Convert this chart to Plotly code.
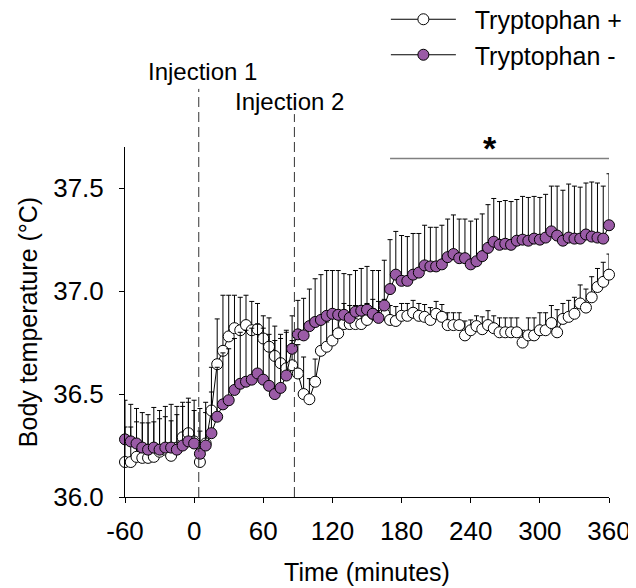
import plotly.graph_objects as go

times = [-60, -55, -50, -45, -40, -35, -30, -25, -20, -15, -10, -5,
         0, 5, 10, 15, 20, 25, 30, 35, 40, 45, 50, 55,
         60, 65, 70, 75, 80, 85, 90, 95, 100, 105, 110, 115,
         120, 125, 130, 135, 140, 145, 150, 155, 160, 165, 170, 175,
         180, 185, 190, 195, 200, 205, 210, 215, 220, 225, 230, 235,
         240, 245, 250, 255, 260, 265, 270, 275, 280, 285, 290, 295,
         300, 305, 310, 315, 320, 325, 330, 335, 340, 345, 350, 355,
         360]

trp_plus = [36.17, 36.17, 36.195, 36.19, 36.19, 36.195, 36.22, 36.23, 36.20, 36.24, 36.29, 36.31,
            36.27, 36.17, 36.26, 36.42, 36.645, 36.71, 36.78, 36.82, 36.81, 36.835, 36.81, 36.815,
            36.77, 36.73, 36.685, 36.65, 36.625, 36.64, 36.60, 36.50, 36.475, 36.56, 36.71, 36.73,
            36.76, 36.795, 36.84, 36.84, 36.84, 36.84, 36.86, 36.89, 36.88, 36.89, 36.86, 36.855,
            36.88, 36.88, 36.895, 36.88, 36.875, 36.86, 36.89, 36.875, 36.835, 36.835, 36.835, 36.785,
            36.81, 36.83, 36.815, 36.835, 36.82, 36.80, 36.80, 36.80, 36.80, 36.75, 36.785, 36.785,
            36.81, 36.81, 36.845, 36.80, 36.865, 36.875, 36.89, 36.94, 36.92, 36.97, 37.02, 37.045,
            37.08]

sem_plus = [0.17, 0.17, 0.17, 0.17, 0.17, 0.17, 0.16, 0.16, 0.17, 0.16, 0.15, 0.15,
            0.15, 0.15, 0.15, 0.21, 0.22, 0.27, 0.20, 0.16, 0.16, 0.145, 0.14, 0.125,
            0.11, 0.14, 0.145, 0.14, 0.175, 0.12, 0.14, 0.18, 0.10, 0.11, 0.13, 0.12,
            0.11, 0.10, 0.10, 0.09, 0.09, 0.09, 0.08, 0.07, 0.07, 0.07, 0.07, 0.07,
            0.06, 0.06, 0.06, 0.06, 0.06, 0.06, 0.06, 0.06, 0.06, 0.06, 0.06, 0.07,
            0.05, 0.05, 0.06, 0.07, 0.06, 0.07, 0.07, 0.07, 0.07, 0.06, 0.085, 0.085,
            0.085, 0.085, 0.085, 0.11, 0.075, 0.08, 0.08, 0.09, 0.09, 0.10, 0.09, 0.095,
            0.10]

trp_minus = [36.28, 36.27, 36.26, 36.24, 36.23, 36.24, 36.23, 36.24, 36.24, 36.23, 36.25, 36.27,
             36.26, 36.21, 36.25, 36.31, 36.39, 36.45, 36.47, 36.52, 36.55, 36.56, 36.57, 36.60,
             36.57, 36.54, 36.50, 36.53, 36.59, 36.72, 36.79, 36.785, 36.83, 36.85, 36.86, 36.88,
             36.89, 36.885, 36.885, 36.87, 36.90, 36.905, 36.91, 36.89, 36.87, 36.93, 37.01, 37.08,
             37.05, 37.05, 37.08, 37.09, 37.125, 37.12, 37.12, 37.13, 37.165, 37.18, 37.16, 37.16,
             37.13, 37.145, 37.17, 37.21, 37.24, 37.225, 37.23, 37.225, 37.245, 37.25, 37.245, 37.255,
             37.25, 37.26, 37.29, 37.27, 37.245, 37.26, 37.255, 37.255, 37.275, 37.265, 37.26, 37.255,
             37.32]

sem_minus = [0.19, 0.18, 0.17, 0.17, 0.17, 0.195, 0.19, 0.20, 0.21, 0.21, 0.21, 0.21,
             0.21, 0.22, 0.21, 0.20, 0.24, 0.25, 0.25, 0.25, 0.25, 0.25, 0.25, 0.24,
             0.25, 0.25, 0.26, 0.24, 0.22, 0.16, 0.165, 0.18, 0.18, 0.21, 0.22, 0.22,
             0.21, 0.215, 0.20, 0.21, 0.20, 0.205, 0.21, 0.21, 0.23, 0.22, 0.24, 0.21,
             0.22, 0.215, 0.20, 0.19, 0.195, 0.19, 0.19, 0.19, 0.185, 0.19, 0.19, 0.19,
             0.21, 0.205, 0.205, 0.21, 0.21, 0.21, 0.21, 0.21, 0.20, 0.21, 0.21, 0.205,
             0.205, 0.21, 0.22, 0.24, 0.245, 0.26, 0.255, 0.25, 0.25, 0.265, 0.265, 0.255,
             0.25]

x_ticks = [-60, 0, 60, 120, 180, 240, 300, 360]
x_tick_labels = ["-60", "0", "60", "120", "180", "240", "300", "360"]
y_ticks = [36.0, 36.5, 37.0, 37.5]
y_tick_labels = ["36.0", "36.5", "37.0", "37.5"]
injection_times = [4, 87]
injection_labels = ["Injection 1", "Injection 2"]
sig_range = [170, 360]
sig_y = 37.644

FONT = "Liberation Sans, Arial, sans-serif"
PURPLE = "#9A5BA6"

fig = go.Figure()

fig.add_trace(go.Scatter(
    x=times, y=trp_plus, mode="lines+markers", name="&nbsp;&nbsp;Tryptophan +",
    line=dict(color="black", width=1),
    marker=dict(size=11, color="white", line=dict(color="black", width=1)),
    error_y=dict(type="data", symmetric=False, array=sem_plus,
                 arrayminus=[0] * len(sem_plus), color="black", thickness=1, width=2.5),
    cliponaxis=False,
))
fig.add_trace(go.Scatter(
    x=times, y=trp_minus, mode="lines+markers", name="&nbsp;&nbsp;Tryptophan -",
    line=dict(color="black", width=1),
    marker=dict(size=11, color=PURPLE, line=dict(color="black", width=1)),
    error_y=dict(type="data", symmetric=False, array=sem_minus,
                 arrayminus=[0] * len(sem_minus), color="black", thickness=1, width=2.5),
    cliponaxis=False,
))

# injection dashed lines
tops = [1.166, 1.094]
for t, top in zip(injection_times, tops):
    fig.add_shape(type="line", xref="x", yref="paper", x0=t, x1=t, y0=0, y1=top,
                  line=dict(color="#333333", width=1, dash="10px,5px"))

fig.add_annotation(x=7, y=1.216, xref="x", yref="paper", text=injection_labels[0],
                   showarrow=False, font=dict(size=24, color="black", family=FONT),
                   xanchor="center", yanchor="middle")
fig.add_annotation(x=83, y=1.131, xref="x", yref="paper", text=injection_labels[1],
                   showarrow=False, font=dict(size=24, color="black", family=FONT),
                   xanchor="center", yanchor="middle")

# significance line and star
fig.add_shape(type="line", xref="x", yref="y", x0=sig_range[0], x1=sig_range[1],
              y0=sig_y, y1=sig_y, line=dict(color="#808080", width=1.5))
fig.add_annotation(x=(sig_range[0] + sig_range[1]) / 2 - 8, y=0.997, xref="x", yref="paper",
                   text="<b>*</b>", showarrow=False,
                   font=dict(size=34, color="black", family=FONT),
                   xanchor="center", yanchor="middle")

# page body adds an 8px offset; figure is sized to fill the rest of the window
fig.update_layout(
    width=628, height=580,
    margin=dict(l=117, r=27, t=139, b=91, autoexpand=False),
    paper_bgcolor="white", plot_bgcolor="white",
    font=dict(family=FONT, size=25, color="black"),
    showlegend=True,
    legend=dict(x=0.539, y=1.430, xanchor="left", yanchor="top",
                font=dict(size=25, family=FONT, color="black"),
                itemwidth=65,
                bgcolor="rgba(0,0,0,0)", tracegroupgap=0),
    xaxis=dict(range=[-60, 360], tickmode="array", tickvals=x_ticks, ticktext=x_tick_labels,
               ticks="outside", ticklen=5, tickwidth=1, tickcolor="black",
               showline=True, linecolor="black", linewidth=1,
               showgrid=False, zeroline=False, automargin=False,
               ticklabelstandoff=6,
               tickfont=dict(size=26, family=FONT),
               title=dict(text="Time (minutes)", font=dict(size=25, family=FONT), standoff=18)),
    yaxis=dict(range=[36.0, 37.7], tickmode="array", tickvals=y_ticks, ticktext=y_tick_labels,
               ticks="outside", ticklen=5, tickwidth=1, tickcolor="black",
               showline=True, linecolor="black", linewidth=1,
               showgrid=False, zeroline=False, automargin=False,
               ticklabelstandoff=10,
               tickfont=dict(size=26, family=FONT),
               title=dict(text="Body temperature (°C)", font=dict(size=25, family=FONT), standoff=8)),
)

fig.write_html("out.html")
